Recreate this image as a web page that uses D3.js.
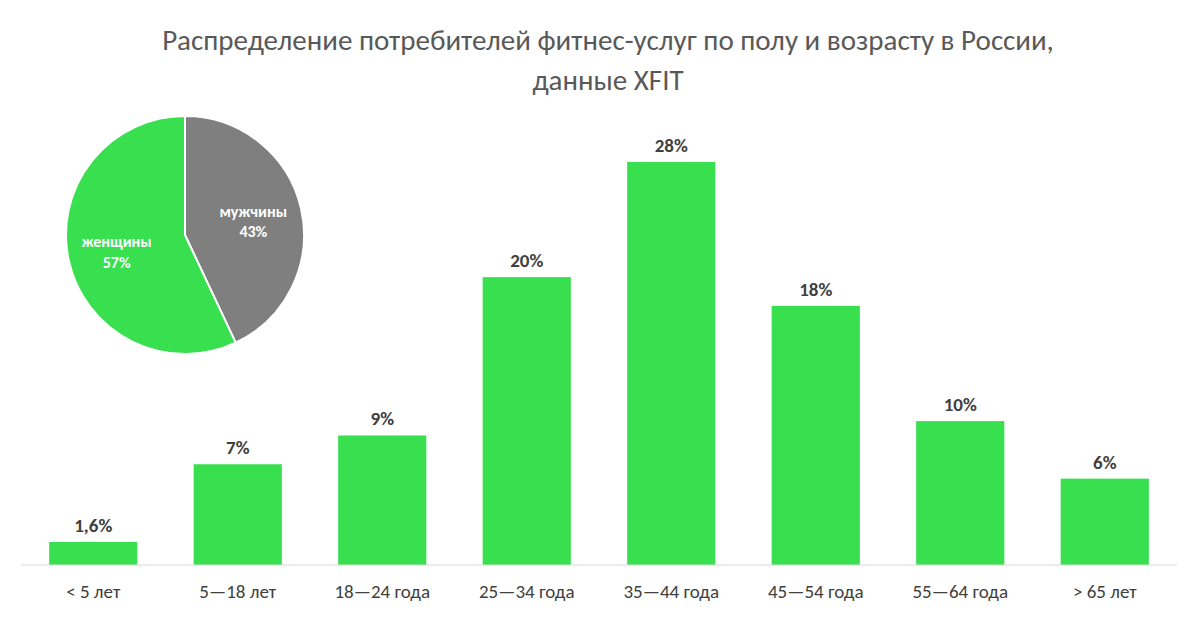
<!DOCTYPE html><html><head><meta charset="utf-8"><script src="https://cdn.jsdelivr.net/npm/d3@7"></script>
<style>body{margin:0;background:#fff}</style></head><body><svg id="c" width="1200" height="625"></svg><script>
const categories=["< 5 лет","5—18 лет","18—24 года","25—34 года","35—44 года","45—54 года","55—64 года","> 65 лет"];
const values=[1.6,7,9,20,28,18,10,6];
const valueLabels=["1,6%","7%","9%","20%","28%","18%","10%","6%"];
const pieNames=["мужчины","женщины"];
const pieValues=[43,57];
const pieColors=["#7f7f7f","#38df4f"];
const svg=d3.select("#c"),font="Calibri, Carlito, 'Open Sans', sans-serif";
const x=d3.scaleBand().domain(categories).range([21,1177]).paddingInner(0.39).paddingOuter(0.195);
const y=d3.scaleLinear().domain([0,28]).range([565,162]);
svg.append("g").selectAll("text").data(["Распределение потребителей фитнес-услуг по полу и возрасту в России,","данные XFIT"]).join("text")
 .attr("x",608).attr("y",(d,i)=>50+i*40).attr("text-anchor","middle").attr("font-family",font).attr("font-size",29).attr("fill","#595959").text(d=>d);
svg.selectAll("rect.b").data(values).join("rect").attr("class","b").attr("x",(d,i)=>x(categories[i])).attr("width",x.bandwidth())
 .attr("y",d=>y(d)).attr("height",d=>y(0)-y(d)).attr("fill","#38df4f");
svg.selectAll("text.v").data(values).join("text").attr("x",(d,i)=>x(categories[i])+x.bandwidth()/2).attr("y",d=>y(d)-10)
 .attr("text-anchor","middle").attr("font-family",font).attr("font-weight","bold").attr("font-size",19).attr("fill","#404040").text((d,i)=>valueLabels[i]);
const ax=svg.append("g").attr("transform","translate(0,565)").call(d3.axisBottom(x).tickSize(0).tickPadding(20));
ax.select(".domain").attr("stroke","#d9d9d9").attr("d","M21,0H1177");
ax.selectAll("text").attr("font-family",font).attr("font-size",19).attr("fill","#404040");
const pie=d3.pie().sort(null)(pieValues);
const arc=d3.arc().innerRadius(0).outerRadius(119);
const pg=svg.append("g").attr("transform","translate(185,235)");
pg.selectAll("path").data(pie).join("path").attr("d",arc).attr("fill",(d,i)=>pieColors[i]).attr("stroke","#fff").attr("stroke-width",2);
const la=d3.arc().innerRadius(70).outerRadius(70);
pg.selectAll("text").data(pie).join("text").attr("transform",d=>{const c=la.centroid(d);return `translate(${c[0]},${c[1]})`})
 .attr("text-anchor","middle").attr("font-family",font).attr("font-weight","bold").attr("font-size",16).attr("fill","#fff")
 .each(function(d,i){const t=d3.select(this);t.append("tspan").attr("x",0).attr("dy","-0.2em").text(pieNames[i]);t.append("tspan").attr("x",0).attr("dy","1.3em").text(pieValues[i]+"%");});
</script></body></html>
